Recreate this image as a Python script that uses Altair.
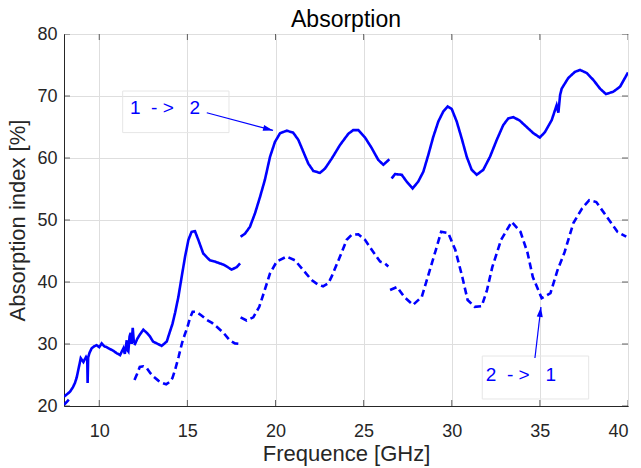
import altair as alt
import pandas as pd
import math

# ---------------- data ----------------
X_MIN, X_MAX = 8, 40
Y_MIN, Y_MAX = 20, 80
x_ticks = [10, 15, 20, 25, 30, 35, 40]
y_ticks = [20, 30, 40, 50, 60, 70, 80]

# "1 -> 2" (solid), one segment per waveguide band
s12_a_x = [8.0, 8.17, 8.34, 8.5, 8.62, 8.72, 8.81, 8.95, 9.1, 9.25, 9.32, 9.34, 9.37, 9.45, 9.57, 9.7,
           9.85, 10.0, 10.14, 10.3, 10.42, 10.6, 10.8, 11.0, 11.18, 11.3, 11.37, 11.45, 11.56, 11.6,
           11.65, 11.72, 11.78, 11.84, 11.9, 11.97]
s12_a_y = [21.5, 21.9, 22.3, 23.0, 23.7, 24.6, 25.8, 27.7, 27.1, 27.9, 27.5, 23.7, 27.8, 28.6, 29.3, 29.6,
           29.8, 29.5, 30.1, 29.6, 29.5, 29.2, 28.9, 28.5, 28.2, 28.9, 29.3, 28.4, 30.6, 29.0,
           28.8, 31.2, 31.8, 30.0, 32.6, 30.1]
s12_b_x = [12.0, 12.15, 12.3, 12.5, 12.7, 12.88, 13.05, 13.26, 13.54, 13.83, 14.01, 14.15, 14.3, 14.49,
           14.68, 14.87, 15.06, 15.24, 15.43, 15.62, 15.9, 16.1, 16.28, 16.55, 16.85, 17.05, 17.23,
           17.51, 17.8, 17.99]
s12_b_y = [29.8, 30.8, 31.5, 32.3, 31.8, 31.2, 30.4, 30.1, 29.7, 30.4, 32.0, 33.2, 35.0, 37.6,
           40.9, 44.1, 46.8, 48.1, 48.2, 46.8, 44.6, 44.0, 43.5, 43.3, 43.0, 42.8, 42.5,
           42.0, 42.4, 43.0]
s12_c_x = [18.02, 18.27, 18.55, 18.84, 19.12, 19.4, 19.69, 19.97, 20.26, 20.64, 21.0, 21.3, 21.58,
           21.86, 22.15, 22.52, 22.81, 23.19, 23.66, 24.13, 24.41, 24.7, 25.08, 25.46, 25.83,
           26.12, 26.31, 26.46]
s12_c_y = [47.3, 47.8, 48.9, 51.1, 53.7, 56.5, 60.2, 62.6, 64.0, 64.4, 64.1, 62.9, 61.0,
           59.1, 57.9, 57.6, 58.3, 59.9, 62.1, 63.9, 64.5, 64.5, 63.3, 61.6, 59.7,
           58.9, 59.4, 59.8]
s12_d_x = [26.59, 26.78, 27.16, 27.44, 27.78, 28.1, 28.39, 28.67, 28.95, 29.24, 29.52, 29.77, 30.0,
           30.28, 30.56, 30.85, 31.13, 31.42, 31.79, 32.17, 32.55, 32.92, 33.21, 33.5, 33.87,
           34.25, 34.63, 35.0, 35.29, 35.67, 35.95, 36.05, 36.15, 36.24, 36.61, 36.99, 37.28,
           37.66, 38.03, 38.41, 38.75, 39.17, 39.55, 40.0]
s12_d_y = [56.7, 57.4, 57.3, 56.2, 55.1, 56.2, 57.8, 60.5, 63.4, 65.9, 67.5, 68.3, 67.9,
           65.9, 63.2, 60.2, 58.1, 57.3, 58.1, 60.2, 62.9, 65.3, 66.4, 66.6, 66.0,
           65.0, 64.0, 63.3, 64.2, 66.1, 68.5, 67.3, 70.2, 71.2, 72.9, 73.9, 74.2,
           73.7, 72.6, 71.2, 70.3, 70.7, 71.5, 73.8]

# "2 -> 1" (dashed)
s21_a_x = [8.0, 8.2, 8.4]
s21_a_y = [20.2, 20.8, 21.4]
s21_b_x = [12.0, 12.15, 12.3, 12.5, 12.7, 12.9, 13.1, 13.35, 13.6, 13.8, 14.0, 14.15, 14.3, 14.5,
           14.7, 14.85, 15.0, 15.15, 15.3, 15.5, 15.8, 16.1, 16.4, 16.7, 17.05, 17.4, 17.7, 18.0]
s21_b_y = [24.2, 25.2, 26.3, 26.4, 26.1, 25.3, 24.7, 24.1, 23.7, 23.5, 23.9, 24.5, 25.8, 27.9,
           30.2, 31.5, 32.7, 34.2, 35.2, 35.2, 34.6, 33.9, 33.4, 32.7, 31.8, 30.6, 30.1, 30.0]
s21_c_x = [18.02, 18.36, 18.74, 19.08, 19.4, 19.69, 20.07, 20.64, 21.1, 21.58, 22.05, 22.4, 22.7,
           23.0, 23.19, 23.66, 24.04, 24.32, 24.7, 25.08, 25.46, 25.93, 26.2, 26.4]
s21_c_y = [34.3, 33.8, 34.3, 36.0, 38.8, 41.4, 43.3, 44.1, 43.5, 41.9, 40.3, 39.6, 39.3,
           39.8, 40.9, 44.1, 46.8, 47.6, 47.7, 46.8, 45.2, 43.3, 43.0, 42.5]
s21_d_x = [26.5, 26.9, 27.3, 27.8, 28.3, 28.7, 29.1, 29.4, 29.8, 30.2, 30.6, 30.9, 31.3, 31.7, 32.0,
           32.3, 32.8, 33.4, 33.9, 34.3, 34.6, 35.1, 35.6, 36.0, 36.4, 36.9, 37.4, 37.8, 38.2,
           38.8, 39.4, 39.9]
s21_d_y = [38.7, 39.2, 37.6, 36.3, 37.6, 41.4, 45.2, 48.1, 47.9, 45.2, 40.8, 37.1, 36.0, 36.1, 38.7,
           42.4, 46.8, 49.7, 48.1, 44.7, 40.8, 37.4, 38.2, 41.9, 44.8, 49.5, 51.9, 53.2, 52.9,
           50.5, 48.1, 47.3]

# annotations (data coordinates)
ann_labels = ["1\u00a0\u00a0-\u00a0>\u00a0\u00a0\u00a02", "2\u00a0\u00a0-\u00a0>\u00a0\u00a0\u00a01"]
ann_text_x = [11.74, 31.93]
ann_text_y = [68.0, 25.0]
box_x1 = [11.33, 31.73]
box_x2 = [17.36, 37.77]
box_y1 = [64.1, 21.13]
box_y2 = [70.8, 28.06]
arrow_x_tail = [16.1, 34.72]
arrow_y_tail = [67.3, 27.74]
arrow_x_tip = [19.86, 35.06]
arrow_y_tip = [64.45, 35.97]

# ---------------- build tables ----------------
rows = []
def add(series, seg, xs, ys):
    for i, (a, b) in enumerate(zip(xs, ys)):
        rows.append({"series": series, "seg": seg, "order": i, "x": a, "y": b})

add("1 -> 2", "s12a", s12_a_x, s12_a_y)
add("1 -> 2", "s12b", s12_b_x, s12_b_y)
add("1 -> 2", "s12c", s12_c_x, s12_c_y)
add("1 -> 2", "s12d", s12_d_x, s12_d_y)
add("2 -> 1", "s21a", s21_a_x, s21_a_y)
add("2 -> 1", "s21b", s21_b_x, s21_b_y)
add("2 -> 1", "s21c", s21_c_x, s21_c_y)
add("2 -> 1", "s21d", s21_d_x, s21_d_y)
lines_df = pd.DataFrame(rows)

W, H = 564, 372
px_per_x = W / (X_MAX - X_MIN)
px_per_y = H / (Y_MAX - Y_MIN)
angles = []
for xt, yt, xh, yh in zip(arrow_x_tail, arrow_y_tail, arrow_x_tip, arrow_y_tip):
    dx = (xh - xt) * px_per_x
    dy = -(yh - yt) * px_per_y
    angles.append((math.degrees(math.atan2(dx, -dy))) % 360)

ann_df = pd.DataFrame({
    "label": ann_labels, "tx": ann_text_x, "ty": ann_text_y,
    "x": box_x1, "x2": box_x2, "y": box_y1, "y2": box_y2,
    "ax": arrow_x_tail, "ay": arrow_y_tail, "hx": arrow_x_tip, "hy": arrow_y_tip,
    "angle": angles,
})

ytick_df = pd.DataFrame({"y": y_ticks})
xtick_df = pd.DataFrame({"x": x_ticks})

# ---------------- chart ----------------
AX = "#262626"
FONT = "Liberation Sans"
xscale = alt.Scale(domain=[X_MIN, X_MAX], nice=False, zero=False)
yscale = alt.Scale(domain=[Y_MIN, Y_MAX], nice=False, zero=False)
xaxis = alt.Axis(values=x_ticks, title="Frequence [GHz]", labelPadding=16, titlePadding=3,
                 labelFontSize=18, titleFontSize=22)
yaxis = alt.Axis(values=y_ticks, title="Absorption index [%]", labelPadding=7, titlePadding=7,
                 labelFontSize=18, titleFontSize=22)

def X(field="x"):
    return alt.X(f"{field}:Q", scale=xscale, axis=xaxis)

def Y(field="y"):
    return alt.Y(f"{field}:Q", scale=yscale, axis=yaxis)

lines = alt.Chart(lines_df).mark_line(color="#0000ff", strokeWidth=2.6, clip=True).encode(
    x=X(), y=Y(), detail="seg:N", order="order:Q",
    strokeDash=alt.StrokeDash("series:N",
                              scale=alt.Scale(domain=["1 -> 2", "2 -> 1"], range=[[1, 0], [7, 4]]),
                              legend=None),
)

boxes = alt.Chart(ann_df).mark_rect(fill=None, fillOpacity=0, stroke="#e6e6e6", strokeWidth=1).encode(
    x=X(), x2="x2:Q", y=Y(), y2="y2:Q"
)

texts = alt.Chart(ann_df).mark_text(align="left", baseline="middle", fontSize=19, font=FONT,
                                    color="#0000ff").encode(
    x=X("tx"), y=Y("ty"), text="label:N"
)

shafts = alt.Chart(ann_df).mark_rule(color="#0000ff", strokeWidth=1.2).encode(
    x=X("ax"), y=Y("ay"), x2="hx:Q", y2="hy:Q"
)

heads = alt.Chart(ann_df).mark_point(
    shape="M0,0 L0.6,2 L-0.6,2 Z", filled=True, color="#0000ff", size=100, opacity=1
).encode(
    x=X("hx"), y=Y("hy"), angle=alt.Angle("angle:Q", scale=None)
)

# inward ticks (MATLAB style)
lt = alt.Chart(ytick_df).mark_tick(orient="horizontal", size=12, thickness=1, color=AX, clip=True).encode(
    x=alt.datum(X_MIN, scale=xscale), y=Y())
rt = alt.Chart(ytick_df).mark_tick(orient="horizontal", size=12, thickness=1, color=AX, clip=True).encode(
    x=alt.datum(X_MAX, scale=xscale), y=Y())
bt = alt.Chart(xtick_df).mark_tick(orient="vertical", size=12, thickness=1, color=AX, clip=True).encode(
    x=X(), y=alt.datum(Y_MIN, scale=yscale))
tt = alt.Chart(xtick_df).mark_tick(orient="vertical", size=12, thickness=1, color=AX, clip=True).encode(
    x=X(), y=alt.datum(Y_MAX, scale=yscale))

chart = alt.layer(lines, boxes, shafts, heads, texts, lt, rt, bt, tt).properties(
    width=W, height=H,
    background="white",
    title=alt.TitleParams("Absorption", fontSize=23, fontWeight="normal", font=FONT, color="#000000",
                          offset=-7),
    autosize=alt.AutoSizeParams(type="none"),
    padding={"left": 64, "top": 34, "right": 13, "bottom": 62},
).configure_view(
    stroke=AX, strokeWidth=1
).configure_axis(
    grid=True, gridColor="#dedede", gridWidth=1, domainColor=AX, domainWidth=1,
    ticks=False, labelFont=FONT, labelFontSize=18, labelColor=AX,
    titleFont=FONT, titleFontSize=22, titleFontWeight="normal", titleColor=AX,
)

chart.save("out.html", embed_options={"renderer": "svg", "actions": False})
